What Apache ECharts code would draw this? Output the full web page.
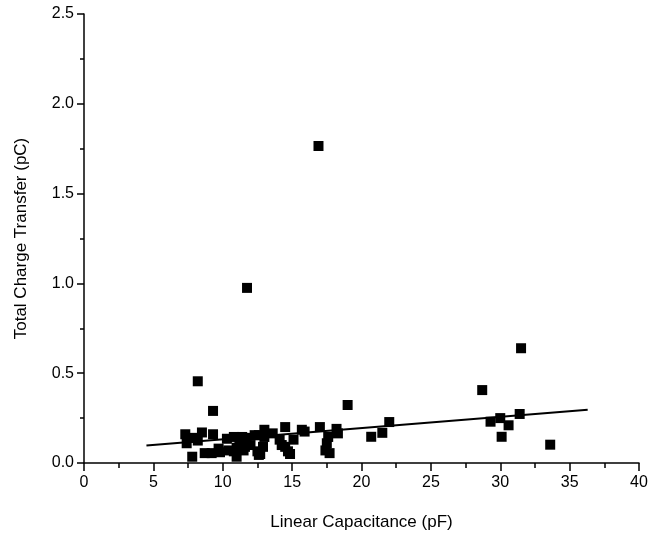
<!DOCTYPE html>
<html>
<head>
<meta charset="utf-8">
<script src="https://cdn.jsdelivr.net/npm/echarts@6/dist/echarts.min.js"></script>
<style>html,body{margin:0;padding:0;background:#fff}#c{width:654px;height:542px}</style>
</head>
<body>
<div id="c"></div>
<script>
// Linear capacitance (pF) values
const capacitance = [7.3,7.4,7.8,7.9,8.2,8.2,8.5,8.7,9.2,9.3,9.3,9.7,9.8,10.3,10.4,10.8,10.8,11.0,11.0,11.2,11.4,11.5,11.6,11.75,11.7,12.0,12.3,12.5,12.6,12.6,12.9,12.7,13.0,13.0,13.6,14.1,14.25,14.5,14.5,14.7,14.85,15.1,15.7,15.9,17.0,16.9,17.4,17.5,17.6,17.7,18.2,18.3,19.0,20.7,21.5,22.0,28.7,29.3,30.0,30.1,30.6,31.4,31.5,33.6];
// Total charge transfer (pC) values
const charge = [0.16,0.11,0.035,0.14,0.125,0.455,0.17,0.055,0.055,0.16,0.29,0.08,0.06,0.135,0.07,0.145,0.065,0.085,0.035,0.11,0.145,0.07,0.09,0.975,0.14,0.1,0.155,0.065,0.045,0.155,0.09,0.05,0.185,0.145,0.165,0.13,0.1,0.2,0.09,0.065,0.05,0.13,0.185,0.175,0.2,1.765,0.07,0.11,0.145,0.055,0.19,0.165,0.323,0.146,0.168,0.228,0.406,0.23,0.25,0.146,0.21,0.273,0.639,0.102];
// Linear fit endpoints
const fitX = [4.5, 36.3];
const fitY = [0.097, 0.297];

const points = capacitance.map((x, i) => [x, charge[i]]);
const fit = fitX.map((x, i) => [x, fitY[i]]);

const chart = echarts.init(document.getElementById('c'), null, {renderer: 'canvas'});
const font = 'Liberation Sans, Arial, sans-serif';
chart.setOption({
  animation: false,
  backgroundColor: '#fff',
  grid: {left: 84, right: 15, top: 14, bottom: 79, containLabel: false},
  xAxis: {
    type: 'value', min: 0, max: 40, interval: 5,
    name: 'Linear Capacitance (pF)', nameLocation: 'middle', nameGap: 51,
    nameTextStyle: {fontFamily: font, fontSize: 17, color: '#000'},
    axisLine: {show: true, onZero: false, lineStyle: {color: '#000', width: 1.5}},
    axisTick: {show: true, inside: false, length: 8, lineStyle: {color: '#000', width: 1.5}},
    minorTick: {show: true, splitNumber: 2, length: 5, lineStyle: {color: '#000', width: 1.5}},
    axisLabel: {fontFamily: font, fontSize: 16, color: '#000', margin: 12},
    splitLine: {show: false}
  },
  yAxis: {
    type: 'value', min: 0, max: 2.5, interval: 0.5,
    name: 'Total Charge Transfer (pC)', nameLocation: 'middle', nameGap: 54,
    nameTextStyle: {fontFamily: font, fontSize: 17, color: '#000'},
    axisLine: {show: true, onZero: false, lineStyle: {color: '#000', width: 1.5}},
    axisTick: {show: true, inside: false, length: 7, lineStyle: {color: '#000', width: 1.5}},
    minorTick: {show: true, splitNumber: 2, length: 4, lineStyle: {color: '#000', width: 1.5}},
    axisLabel: {fontFamily: font, fontSize: 16, color: '#000', margin: 10, formatter: v => v.toFixed(1)},
    splitLine: {show: false}
  },
  series: [
    {
      type: 'scatter', data: points, symbol: 'rect', symbolSize: 10,
      itemStyle: {color: '#000', opacity: 1}
    },
    {
      type: 'line', data: fit, symbol: 'none',
      lineStyle: {color: '#000', width: 2}
    }
  ]
});
</script>
</body>
</html>
